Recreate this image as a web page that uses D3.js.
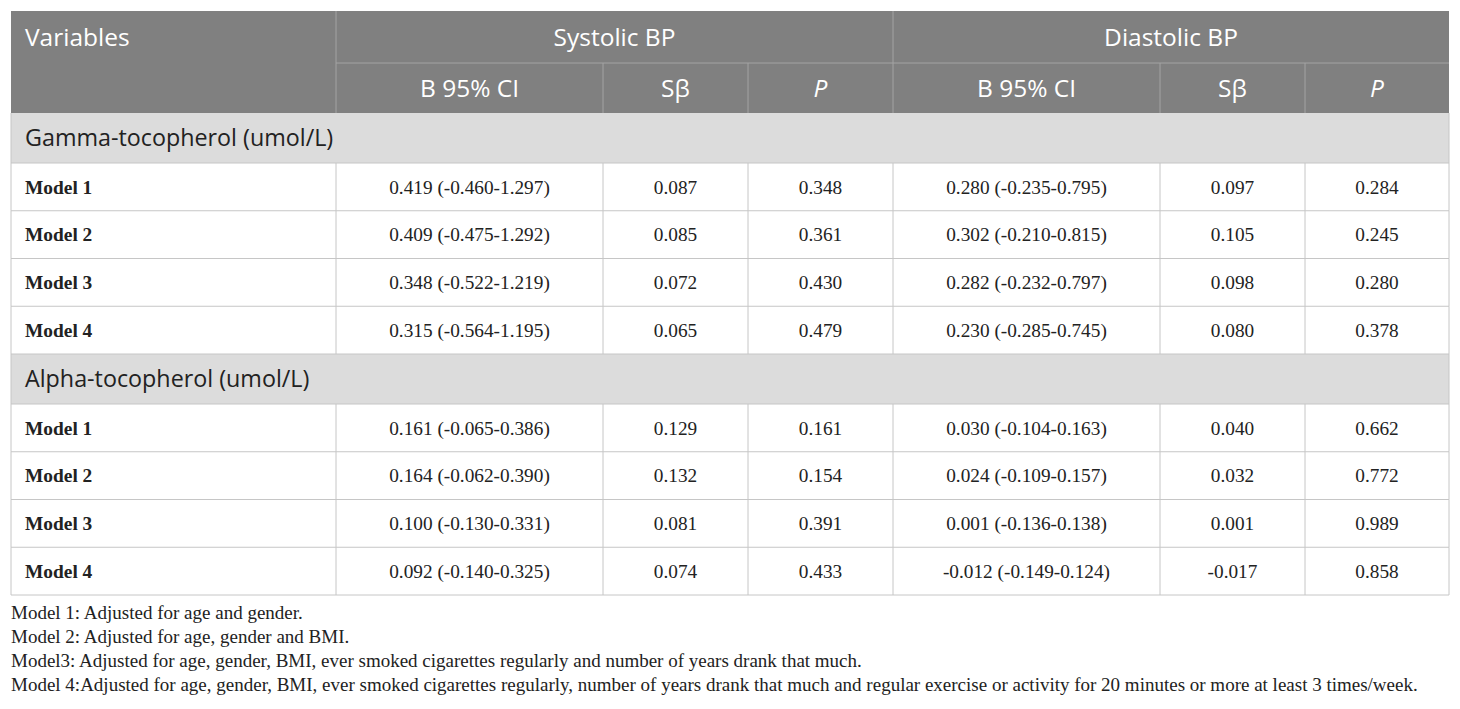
<!DOCTYPE html>
<html>
<head>
<meta charset="utf-8">
<script src="https://cdn.jsdelivr.net/npm/d3@7"></script>
<style>
	body { margin: 0; background: #fff; }
	svg { display: block; }
</style>
</head>
<body>
<svg id="chart" width="1460" height="709"></svg>
<script>

// Table content

var topHeaders = ["Systolic BP", "Diastolic BP"];
var subHeaders = ["B 95% CI", "S\u03b2", "P", "B 95% CI", "S\u03b2", "P"];

var groups = ["Gamma-tocopherol (umol/L)", "Alpha-tocopherol (umol/L)"];
var models = ["Model 1", "Model 2", "Model 3", "Model 4"];

var sysB = [
	"0.419 (-0.460-1.297)", "0.409 (-0.475-1.292)", "0.348 (-0.522-1.219)", "0.315 (-0.564-1.195)",
	"0.161 (-0.065-0.386)", "0.164 (-0.062-0.390)", "0.100 (-0.130-0.331)", "0.092 (-0.140-0.325)"
];
var sysS = ["0.087", "0.085", "0.072", "0.065", "0.129", "0.132", "0.081", "0.074"];
var sysP = ["0.348", "0.361", "0.430", "0.479", "0.161", "0.154", "0.391", "0.433"];

var diaB = [
	"0.280 (-0.235-0.795)", "0.302 (-0.210-0.815)", "0.282 (-0.232-0.797)", "0.230 (-0.285-0.745)",
	"0.030 (-0.104-0.163)", "0.024 (-0.109-0.157)", "0.001 (-0.136-0.138)", "-0.012 (-0.149-0.124)"
];
var diaS = ["0.097", "0.105", "0.098", "0.080", "0.040", "0.032", "0.001", "-0.017"];
var diaP = ["0.284", "0.245", "0.280", "0.378", "0.662", "0.772", "0.989", "0.858"];

var notes = [
	"Model 1: Adjusted for age and gender.",
	"Model 2: Adjusted for age, gender and BMI.",
	"Model3: Adjusted for age, gender, BMI, ever smoked cigarettes regularly and number of years drank that much.",
	"Model 4:Adjusted for age, gender, BMI, ever smoked cigarettes regularly, number of years drank that much and regular exercise or activity for 20 minutes or more at least 3 times/week."
];

// Layout

var colEdges = [11, 336, 603, 748, 893, 1160, 1305, 1449];
var headTop = 11, headMid = 63, headBottom = 113;
var groupH = 50, rowH = 47.75;

var sansFont = "'Open Sans', sans-serif";
var serifFont = "'Liberation Serif', 'Times New Roman', serif";

var svg = d3.select("#chart");

// build row list

var rows = [];
var y = headBottom;
groups.forEach(function (g, gi) {
	rows.push({type: "group", label: g, y0: y, y1: y + groupH});
	y += groupH;
	models.forEach(function (m, mi) {
		var k = gi * models.length + mi;
		rows.push({
			type: "data", label: m, y0: y, y1: y + rowH,
			cells: [sysB[k], sysS[k], sysP[k], diaB[k], diaS[k], diaP[k]]
		});
		y += rowH;
	});
});
var tableBottom = y;

// Header

svg.append("rect")
	.attr("x", colEdges[0]).attr("y", headTop)
	.attr("width", colEdges[7] - colEdges[0]).attr("height", headBottom - headTop)
	.attr("fill", "#808080");

var headLines = svg.append("g").attr("stroke", "#a3a3a3").attr("stroke-width", 1);

headLines.append("line")
	.attr("x1", colEdges[1]).attr("x2", colEdges[7])
	.attr("y1", headMid).attr("y2", headMid);

[1, 4].forEach(function (i) {
	headLines.append("line")
		.attr("x1", colEdges[i]).attr("x2", colEdges[i])
		.attr("y1", headTop).attr("y2", headBottom);
});
[2, 3, 5, 6].forEach(function (i) {
	headLines.append("line")
		.attr("x1", colEdges[i]).attr("x2", colEdges[i])
		.attr("y1", headMid).attr("y2", headBottom);
});

var headSize = "24.5px";

svg.append("text")
	.attr("x", 25).attr("y", (headTop + headMid) / 2)
	.attr("dy", "0.35em")
	.attr("fill", "#fff")
	.style("font-family", sansFont).style("font-size", headSize)
	.text("Variables");

svg.selectAll(".top-head")
	.data(topHeaders)
	.enter().append("text")
	.attr("class", "top-head")
	.attr("x", function (d, i) { return (colEdges[1 + i * 3] + colEdges[4 + i * 3]) / 2; })
	.attr("y", (headTop + headMid) / 2)
	.attr("dy", "0.35em")
	.attr("text-anchor", "middle")
	.attr("fill", "#fff")
	.style("font-family", sansFont).style("font-size", headSize)
	.text(function (d) { return d; });

svg.selectAll(".sub-head")
	.data(subHeaders)
	.enter().append("text")
	.attr("class", "sub-head")
	.attr("x", function (d, i) { return (colEdges[i + 1] + colEdges[i + 2]) / 2; })
	.attr("y", (headMid + headBottom) / 2)
	.attr("dy", "0.35em")
	.attr("text-anchor", "middle")
	.attr("fill", "#fff")
	.style("font-family", sansFont).style("font-size", headSize)
	.style("font-style", function (d) { return d == "P" ? "italic" : "normal"; })
	.text(function (d) { return d; });

// Body

var body = svg.append("g");

body.selectAll(".group-bg")
	.data(rows.filter(function (r) { return r.type == "group"; }))
	.enter().append("rect")
	.attr("class", "group-bg")
	.attr("x", colEdges[0]).attr("y", function (d) { return d.y0; })
	.attr("width", colEdges[7] - colEdges[0])
	.attr("height", function (d) { return d.y1 - d.y0; })
	.attr("fill", "#dcdcdc");

var lineColor = "#c6c6c6";

// horizontal rules
body.selectAll(".hrule")
	.data(rows)
	.enter().append("line")
	.attr("class", "hrule")
	.attr("x1", colEdges[0]).attr("x2", colEdges[7])
	.attr("y1", function (d) { return d.y1; })
	.attr("y2", function (d) { return d.y1; })
	.attr("stroke", lineColor);

// vertical rules in data rows
rows.filter(function (r) { return r.type == "data"; }).forEach(function (r) {
	colEdges.forEach(function (x) {
		body.append("line")
			.attr("x1", x).attr("x2", x)
			.attr("y1", r.y0).attr("y2", r.y1)
			.attr("stroke", lineColor);
	});
});

// group side borders
rows.filter(function (r) { return r.type == "group"; }).forEach(function (r) {
	[colEdges[0], colEdges[7]].forEach(function (x) {
		body.append("line")
			.attr("x1", x).attr("x2", x)
			.attr("y1", r.y0).attr("y2", r.y1)
			.attr("stroke", lineColor);
	});
});

body.selectAll(".group-label")
	.data(rows.filter(function (r) { return r.type == "group"; }))
	.enter().append("text")
	.attr("class", "group-label")
	.attr("x", 25)
	.attr("y", function (d) { return (d.y0 + d.y1) / 2; })
	.attr("dy", "0.35em")
	.attr("fill", "#222")
	.style("font-family", sansFont).style("font-size", "23.3px")
	.text(function (d) { return d.label; });

var dataRows = body.selectAll(".data-row")
	.data(rows.filter(function (r) { return r.type == "data"; }))
	.enter().append("g")
	.attr("class", "data-row")
	.attr("transform", function (d) { return "translate(0," + ((d.y0 + d.y1) / 2) + ")"; });

dataRows.append("text")
	.attr("x", 25)
	.attr("dy", "0.35em")
	.attr("fill", "#222")
	.style("font-family", serifFont).style("font-size", "19.4px")
	.style("font-weight", "bold")
	.text(function (d) { return d.label; });

dataRows.selectAll(".cell")
	.data(function (d) { return d.cells; })
	.enter().append("text")
	.attr("class", "cell")
	.attr("x", function (d, i) { return (colEdges[i + 1] + colEdges[i + 2]) / 2; })
	.attr("dy", "0.35em")
	.attr("text-anchor", "middle")
	.attr("fill", "#222")
	.style("font-family", serifFont).style("font-size", "19.3px")
	.text(function (d) { return d; });

// Footnotes

svg.selectAll(".note")
	.data(notes)
	.enter().append("text")
	.attr("class", "note")
	.attr("x", colEdges[0])
	.attr("y", function (d, i) { return tableBottom + 17 + i * 24; })
	.attr("dy", "0.35em")
	.attr("fill", "#222")
	.style("font-family", serifFont).style("font-size", "19px")
	.text(function (d) { return d; });

</script>
</body>
</html>
